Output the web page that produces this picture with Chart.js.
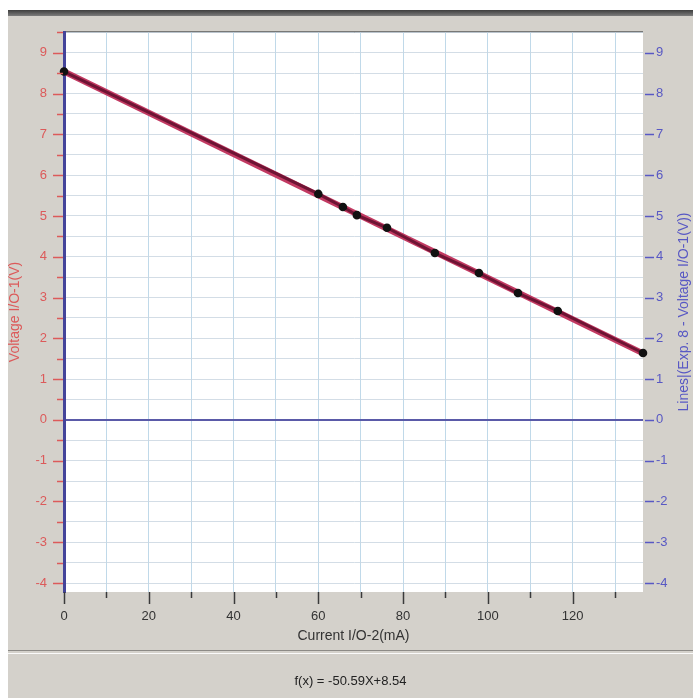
<!DOCTYPE html>
<html>
<head>
<meta charset="utf-8">
<title>Voltage vs Current</title>
<script src="https://cdn.jsdelivr.net/npm/chart.js@4.4.0/dist/chart.umd.min.js"></script>
<style>
  body { margin: 0; width: 693px; height: 698px; position: relative; overflow: hidden;
         background: #d4d1cb; font-family: "Liberation Sans", Arial, sans-serif; }
  .edgeLeft { position: absolute; left: 0; top: 0; width: 8px; height: 698px; background: #fff; }
  .edgeTop { position: absolute; left: 0; top: 0; width: 693px; height: 10px; background: #fff; }
  .topBar { position: absolute; left: 8px; top: 10px; width: 685px; height: 6px;
            background: linear-gradient(#3e3e3e, #7c7c7c); }
  .separator { position: absolute; left: 8px; top: 650px; width: 685px; height: 2px;
               border-top: 1px solid #8c8a86; border-bottom: 1px solid #fafafa; }
  .formula { position: absolute; left: 8px; top: 673px; width: 685px; text-align: center;
             font-size: 13px; color: #222; }
  canvas { position: absolute; left: 0; top: 0; }
</style>
</head>
<body>
<div class="edgeLeft"></div>
<div class="edgeTop"></div>
<div class="topBar"></div>
<canvas id="chart" width="693" height="698"></canvas>
<div class="separator"></div>
<div class="formula">f(x) = -50.59X+8.54</div>
<script>
// measured points (Exp. 8)
const currentMA = [0, 60.0, 65.8, 69.1, 76.2, 87.5, 97.9, 107.1, 116.5, 136.6];
const voltageV  = [8.54, 5.54, 5.22, 5.02, 4.71, 4.09, 3.60, 3.11, 2.67, 1.64];

// fitted line end points
const fitCurrent = [0, 136.6];
const fitVoltage = [8.54, 1.63];

// axis ranges
const currentRange = [0, 136.6];
const voltageRange = [-4.22, 9.51];

const xTitle = 'Current I/O-2(mA)';
const yTitle = 'Voltage I/O-1(V)';
const y2Title = 'Lines|(Exp. 8 - Voltage I/O-1(V))';

const RED = '#dc5a5a';
const BLUE = '#5858c4';

const measured = currentMA.map((x, i) => ({ x: x, y: voltageV[i] }));
const fitted = fitCurrent.map((x, i) => ({ x: x, y: fitVoltage[i] }));

// white plot background + dark top border
const plotFrame = {
  id: 'plotFrame',
  beforeDraw(chart) {
    const { ctx, chartArea: a } = chart;
    ctx.save();
    ctx.fillStyle = '#ffffff';
    ctx.fillRect(a.left, a.top, a.right - a.left, a.bottom - a.top);
    ctx.strokeStyle = '#5a5a5a';
    ctx.lineWidth = 1.5;
    ctx.beginPath();
    ctx.moveTo(a.left, a.top);
    ctx.lineTo(a.right, a.top);
    ctx.stroke();
    ctx.restore();
  }
};

// tick marks (long for labelled ticks, short for the others) + right title
const tickMarks = {
  id: 'tickMarks',
  afterDraw(chart) {
    const { ctx, chartArea: a } = chart;
    const sx = chart.scales.x, sy = chart.scales.y, sy2 = chart.scales.y2;
    ctx.save();
    ctx.lineWidth = 1.5;

    ctx.strokeStyle = '#3a3a3a';
    sx.ticks.forEach(t => {
      const px = Math.round(sx.getPixelForValue(t.value)) + 0.5;
      const len = t.value % 20 === 0 ? 12 : 6;
      ctx.beginPath();
      ctx.moveTo(px, a.bottom);
      ctx.lineTo(px, a.bottom + len);
      ctx.stroke();
    });

    ctx.strokeStyle = RED;
    sy.ticks.forEach(t => {
      const py = Math.round(sy.getPixelForValue(t.value)) + 0.5;
      const len = Number.isInteger(t.value) ? 10 : 6;
      ctx.beginPath();
      ctx.moveTo(a.left - 1 - len, py);
      ctx.lineTo(a.left - 1, py);
      ctx.stroke();
    });

    ctx.strokeStyle = BLUE;
    sy2.ticks.forEach(t => {
      const py = Math.round(sy2.getPixelForValue(t.value)) + 0.5;
      ctx.beginPath();
      ctx.moveTo(a.right + 2, py);
      ctx.lineTo(a.right + 11, py);
      ctx.stroke();
    });

    // right axis title reads bottom to top
    ctx.fillStyle = BLUE;
    ctx.font = '14px "Liberation Sans", Arial, sans-serif';
    ctx.textAlign = 'center';
    ctx.textBaseline = 'middle';
    ctx.translate(684, (a.top + a.bottom) / 2);
    ctx.rotate(-Math.PI / 2);
    ctx.fillText(y2Title, 0, 0);
    ctx.restore();
  }
};

const tickFont = { family: '"Liberation Sans", Arial, sans-serif', size: 13 };
const titleFont = { family: '"Liberation Sans", Arial, sans-serif', size: 14 };

new Chart(document.getElementById('chart'), {
  type: 'scatter',
  data: {
    datasets: [
      {
        label: 'Voltage I/O-1(V)',
        data: measured,
        showLine: true,
        borderColor: '#6e1434',
        borderWidth: 3,
        pointRadius: 2.8,
        pointBackgroundColor: '#111',
        pointBorderColor: '#111',
        yAxisID: 'y',
        clip: false,
        order: 0
      },
      {
        label: 'Lines',
        data: fitted,
        showLine: true,
        borderColor: '#c23a62',
        borderWidth: 6,
        pointRadius: 0,
        yAxisID: 'y2',
        clip: false,
        order: 1
      }
    ]
  },
  options: {
    responsive: false,
    animation: false,
    layout: { padding: { top: 32, bottom: 53, left: 0, right: 0 } },
    plugins: {
      legend: { display: false },
      tooltip: { enabled: false }
    },
    scales: {
      x: {
        type: 'linear',
        min: currentRange[0],
        max: currentRange[1],
        afterFit: s => { s.height = 53; },
        border: { display: false },
        grid: { color: 'rgba(150,192,218,0.6)', lineWidth: 1, drawTicks: false },
        ticks: {
          stepSize: 10,
          includeBounds: false,
          autoSkip: false,
          maxRotation: 0,
          padding: 17,
          color: '#333',
          font: tickFont,
          callback: v => (v % 20 === 0 ? v : '')
        },
        title: { display: true, text: xTitle, color: '#333', font: titleFont, padding: { top: 0, bottom: 0 } }
      },
      y: {
        type: 'linear',
        position: 'left',
        min: voltageRange[0],
        max: voltageRange[1],
        afterFit: s => { s.width = 64; },
        border: { display: true, color: '#44449a', width: 3 },
        grid: {
          drawTicks: false,
          color: c => (c.tick && c.tick.value === 0 ? '#5a5aa8' : 'rgba(200,212,224,0.8)'),
          lineWidth: c => (c.tick && c.tick.value === 0 ? 2 : 1)
        },
        ticks: {
          stepSize: 0.5,
          includeBounds: false,
          autoSkip: false,
          padding: 17,
          color: RED,
          font: tickFont,
          callback: v => (Number.isInteger(v) ? v : '')
        },
        title: { display: true, text: yTitle, color: RED, font: titleFont, padding: { top: 7, bottom: 0 } }
      },
      y2: {
        type: 'linear',
        position: 'right',
        min: voltageRange[0],
        max: voltageRange[1],
        afterFit: s => { s.width = 50; },
        border: { display: false },
        grid: { drawOnChartArea: false, drawTicks: false },
        ticks: {
          stepSize: 1,
          includeBounds: false,
          autoSkip: false,
          padding: 13,
          color: BLUE,
          font: tickFont
        }
      }
    }
  },
  plugins: [plotFrame, tickMarks]
});
</script>
</body>
</html>
